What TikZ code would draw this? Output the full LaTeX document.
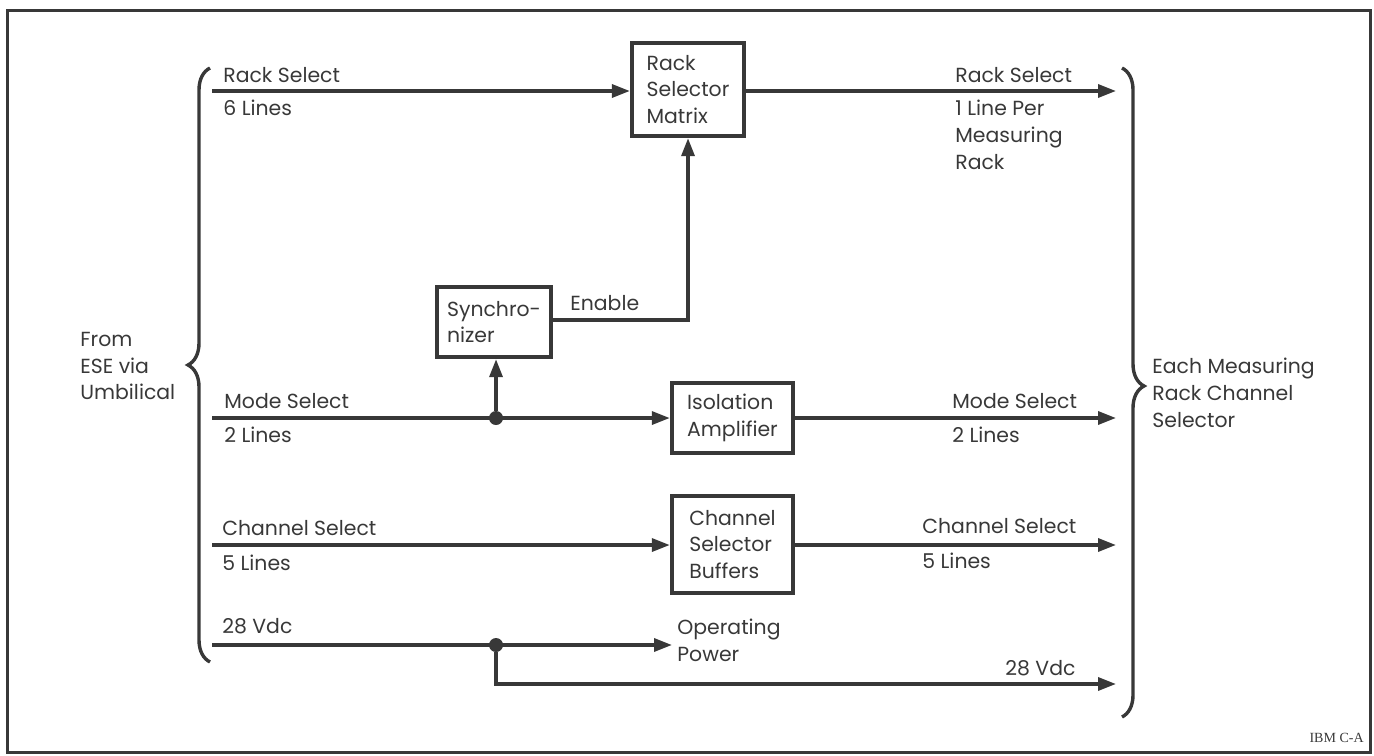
\documentclass[tikz,border=0pt]{standalone}
\usepackage{fontspec}
\setmainfont{Poppins}
\newfontfamily\tagfont{Liberation Serif}
\usepackage{xcolor}
\usepackage{tikz}
\usetikzlibrary{arrows.meta}
\usetikzlibrary{positioning}
\usetikzlibrary{decorations.pathreplacing}
\definecolor{ink}{HTML}{383838}

\begin{document}
\begin{tikzpicture}[x=0.5pt,y=-0.5pt,
        line/.style={ink, line width=1.7pt},
        sig/.style={line, -{Triangle[length=9pt,width=6.5pt]}},
        unit/.style={draw=ink, line width=2.2pt, align=left, inner sep=2pt, text=ink,
            font=\fontsize{10.2}{13.3}\selectfont},
        lbl/.style={text=ink, inner sep=0pt, align=left,
            font=\fontsize{10.2}{13.3}\selectfont},
        jdot/.style={circle, fill=ink, inner sep=0pt, minimum size=7pt},
        curly/.style={ink, line width=1.7pt, decorate,
            decoration={brace, amplitude=11pt, aspect=#1}}]
        \useasboundingbox (0,0) rectangle (1374,755);
        \draw[ink, line width=1.5pt] (7,10) rectangle (1370,752);

        % blocks
        \node[unit, minimum width=56pt, minimum height=46.5pt] (rsm) at (688,89.5) {Rack\\Selector\\Matrix};
        \node[unit, minimum width=57pt, minimum height=35pt] (sync) at (494,322) {Synchro-\\nizer};
        \node[unit, minimum width=60.5pt, minimum height=35pt] (iso) at (732.5,418) {Isolation\\Amplifier};
        \node[unit, minimum width=60.5pt, minimum height=48.5pt] (csb) at (732.5,544.5) {Channel\\Selector\\Buffers};

        % line ends
        \coordinate (rsin) at (212,91);
        \coordinate (rsout) at (1116,91);
        \coordinate (enb) at (688,320);
        \coordinate (msin) at (212,418);
        \coordinate (msout) at (1116,418);
        \coordinate (csin) at (212,545);
        \coordinate (csout) at (1116,545);
        \coordinate (pwin) at (212,645);
        \coordinate (pwop) at (672,645);
        \coordinate (pwout) at (1116,684);
        \node[jdot] (msdot) at (496,418) {};
        \node[jdot] (pwdot) at (496,645) {};

        % connectors
        \draw[sig] (rsin) -- (rsin -| rsm.west);
        \draw[sig] (rsm.east |- rsout) -- (rsout);
        \draw[sig] (sync.east |- enb) -- (enb) -- (enb |- rsm.south);
        \draw[sig] (msin) -- (msin -| iso.west);
        \draw[sig] (msdot) -- (sync.south -| msdot);
        \draw[sig] (iso.east |- msout) -- (msout);
        \draw[sig] (csin) -- (csin -| csb.west);
        \draw[sig] (csb.east |- csout) -- (csout);
        \draw[sig] (pwin) -- (pwop);
        \draw[sig] (pwdot) |- (pwout);

        % braces
        \draw[curly=0.5] (210,662) -- (210,68);
        \draw[curly=0.49] (1122,68) -- (1122,717);

        % labels
        \node[lbl, anchor=base west] (l1) at (223,82) {Rack Select};
        \node[lbl, anchor=base west] (l2) at (223,115) {6 Lines};
        \node[lbl, anchor=base west] (l3) at (955,82) {Rack Select};
        \node[lbl, anchor=north west] (l4) at (955,100) {1 Line Per\\Measuring\\Rack};
        \node[lbl, anchor=base west] (l5) at (570,310) {Enable};
        \node[lbl, anchor=base west] (l6) at (224,408) {Mode Select};
        \node[lbl, anchor=base west] (l7) at (224,442) {2 Lines};
        \node[lbl, anchor=base west] (l8) at (952,408) {Mode Select};
        \node[lbl, anchor=base west] (l9) at (952,442) {2 Lines};
        \node[lbl, anchor=base west] (l10) at (222,535) {Channel Select};
        \node[lbl, anchor=base west] (l11) at (222,570) {5 Lines};
        \node[lbl, anchor=base west] (l12) at (922,533) {Channel Select};
        \node[lbl, anchor=base west] (l13) at (922,568) {5 Lines};
        \node[lbl, anchor=base west] (l14) at (222,633) {28 Vdc};
        \node[lbl, anchor=north west] (l15) at (677,619) {Operating\\Power};
        \node[lbl, anchor=base west] (l16) at (1005,675) {28 Vdc};
        \node[lbl, anchor=north west] (l17) at (80,332) {From\\ESE via\\Umbilical};
        \node[lbl, anchor=north west] (l18) at (1152,358) {Each Measuring\\Rack Channel\\Selector};
        \node[text=ink, inner sep=0pt, anchor=base east, font=\tagfont\fontsize{7}{8}\selectfont] (tag) at (1364,742) {IBM C-A};
    \end{tikzpicture}
\end{document}
